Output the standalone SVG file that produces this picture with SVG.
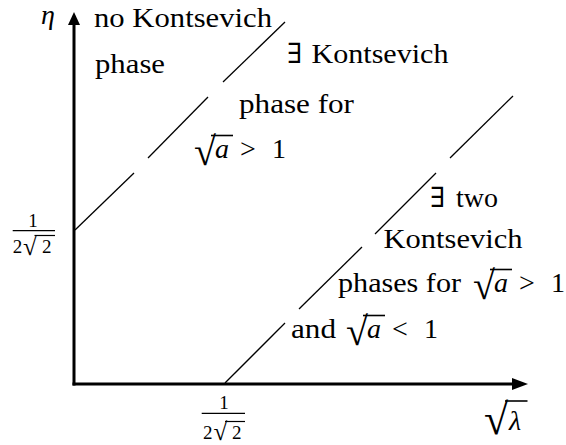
<svg xmlns="http://www.w3.org/2000/svg" width="566" height="445" viewBox="0 0 566 445" font-family="Liberation Serif, DejaVu Serif, Times New Roman, serif">
<style>
text{fill:#000}
.t{font-size:28px}
.it{font-style:italic}
.s{font-size:19px}
.rad{font-size:40px}
.rads{font-size:25px}
.ax{stroke:#000;stroke-width:3;fill:none}
.dg{stroke:#000;stroke-width:1.3;fill:none}
.bar{stroke:#000;stroke-width:1.2}
.bar2{stroke:#000;stroke-width:1.6}
</style>
<rect width="566" height="445" fill="#fff"/>
<g id="axes">
<line class="ax" x1="74" y1="385.5" x2="74" y2="22"/>
<polygon points="74,12 68,25 80,25" fill="#000"/>
<line class="ax" x1="72.5" y1="384" x2="515" y2="384"/>
<polygon points="528,384 512,378 512,390" fill="#000"/>
</g>
<g id="connectors">
<line class="dg" x1="75" y1="230" x2="134" y2="173"/>
<line class="dg" x1="148" y1="158" x2="208" y2="97"/>
<line class="dg" x1="223" y1="82" x2="285" y2="22"/>
<line class="dg" x1="225" y1="383" x2="285" y2="323"/>
<line class="dg" x1="299" y1="309" x2="362" y2="247"/>
<line class="dg" x1="375" y1="234" x2="436" y2="173"/>
<line class="dg" x1="450" y1="158" x2="513" y2="96"/>
</g>
<g id="label-eta"><text class="t it" x="41" y="24">η</text></g>
<g id="label-yfrac">
<text class="s" x="33" y="226.5" text-anchor="middle">1</text>
<line class="bar" x1="12.7" y1="230.7" x2="55" y2="230.7"/>
<text class="s" x="12.7" y="253">2</text>
<text class="rads" x="23" y="254.5">√</text>
<line class="bar" x1="34.5" y1="235.5" x2="55" y2="235.5"/>
<text class="s" x="42" y="253">2</text>
</g>
<g id="label-xfrac">
<text class="s" x="224" y="408.5" text-anchor="middle">1</text>
<line class="bar" x1="201.7" y1="413.3" x2="245" y2="413.3"/>
<text class="s" x="203" y="438.5">2</text>
<text class="rads" x="213.5" y="440">√</text>
<line class="bar" x1="225" y1="421.5" x2="245" y2="421.5"/>
<text class="s" x="232" y="438.5">2</text>
</g>
<g id="label-sqrt-lambda">
<text class="rad" x="484" y="434" style="font-size:44px">√</text>
<line class="bar2" x1="505" y1="401" x2="527.5" y2="401"/>
<text class="t it" x="509" y="430">λ</text>
</g>
<g id="region-no">
<text class="t" x="94" y="27" textLength="178" lengthAdjust="spacingAndGlyphs">no Kontsevich</text>
<text class="t" x="95" y="73" textLength="70" lengthAdjust="spacingAndGlyphs">phase</text>
</g>
<g id="region-one">
<text class="t" x="287" y="63">∃</text>
<text class="t" x="311.5" y="63" textLength="137" lengthAdjust="spacingAndGlyphs">Kontsevich</text>
<text class="t" x="239" y="113" textLength="115" lengthAdjust="spacingAndGlyphs">phase for</text>
<text class="rad" x="194" y="165">√</text>
<line class="bar2" x1="211" y1="135.5" x2="233" y2="135.5"/>
<text class="t it" x="215" y="158">a</text>
<text class="t" x="240" y="158">&gt;</text>
<text class="t" x="272" y="158">1</text>
</g>
<g id="region-two">
<text class="t" x="430" y="207">∃</text>
<text class="t" x="456" y="207" textLength="42" lengthAdjust="spacingAndGlyphs">two</text>
<text class="t" x="383.5" y="248" textLength="139" lengthAdjust="spacingAndGlyphs">Kontsevich</text>
<text class="t" x="338" y="292" textLength="123" lengthAdjust="spacingAndGlyphs">phases for</text>
<text class="rad" x="473" y="299">√</text>
<line class="bar2" x1="490" y1="269.5" x2="512" y2="269.5"/>
<text class="t it" x="494" y="292">a</text>
<text class="t" x="519" y="292">&gt;</text>
<text class="t" x="551" y="292">1</text>
<text class="t" x="291" y="338" textLength="45" lengthAdjust="spacingAndGlyphs">and</text>
<text class="rad" x="346" y="345">√</text>
<line class="bar2" x1="363" y1="315.5" x2="385" y2="315.5"/>
<text class="t it" x="367" y="338">a</text>
<text class="t" x="392" y="338">&lt;</text>
<text class="t" x="424" y="338">1</text>
</g>
</svg>
